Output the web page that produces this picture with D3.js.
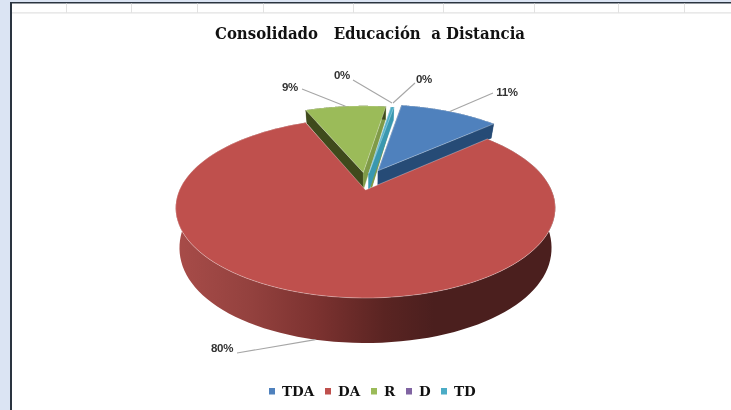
<!DOCTYPE html>
<html><head><meta charset="utf-8">
<script src="https://cdn.jsdelivr.net/npm/d3@7"></script>
<style>
html,body{margin:0;padding:0;background:#dbe4f3;overflow:hidden}
svg{display:block;filter:blur(0.45px)}
</style></head><body>
<svg id="c" width="731" height="410"></svg>
<script>
const chartTitle = "Consolidado\u00A0\u00A0 Educación\u00A0 a Distancia";
const categories = ["TDA","DA","R","D","TD"];
const values = [10.6,80.45,8.6,0.05,0.3];
const topColors = ["#4f81bd","#bf504d","#9bbb59","#8064a2","#4bacc6"];
const wallColors = ["#264b76","#7d3331","#3f4a1c","#7f9a47","#3a98b0"];
const endFaceColors = ["#264b76","#7d3331","#7f9a47","#7f9a47","#3a98b0"];
const exploded = [0.245,0,0.21,0.2,0.2];
const explodeTilt = [-12,0,3.5,0,-4];

const svg = d3.select("#c");
// sheet frame
svg.append("rect").attr("x",10).attr("y",2).attr("width",721).attr("height",408).attr("fill","#2a3440");
svg.append("rect").attr("x",12).attr("y",3.5).attr("width",719).attr("height",407).attr("fill","#fff");
const gridXs = [66,131,197,263,353,443,534,618,684];
svg.selectAll("line.g").data(gridXs).join("line").attr("class","g")
  .attr("x1",d=>d+.5).attr("x2",d=>d+.5).attr("y1",3.5).attr("y2",13).attr("stroke","#e2e2e2").attr("stroke-width",1);
svg.append("line").attr("x1",12).attr("x2",731).attr("y1",12.8).attr("y2",12.8).attr("stroke","#e2e2e2").attr("stroke-width",1.2);

svg.append("text").attr("x",370).attr("y",39).attr("text-anchor","middle")
  .attr("font-family","'DejaVu Serif'").attr("font-weight",700).attr("font-size",16.5)
  .attr("textLength",310).attr("lengthAdjust","spacingAndGlyphs")
  .attr("fill","#111").text(chartTitle);

// perspective projection of the pie plane
const cx=365.5, B=190, A=-48.4, C=0.2, D=186;
const yTop=(u,t)=>(A*t+B)/(1+C*t);
const xTop=(u,t)=>cx+D*u/(1+C*t);
const depthMain=t=>37.5-13.4*t-5.9*t*t;
const depthExploded=t=>18-4*t;
const upperPt=(u,t)=>[xTop(u,t),yTop(u,t)];
const lowerWith=dep=>(u,t)=>[cx+(xTop(u,t)-cx)*0.98,yTop(u,t)+dep(t)];
const pathLine=d3.line();

const rot = 9.8*Math.PI/180;
const arcs = d3.pie().sort(null).value(d=>d).startAngle(rot).endAngle(rot+2*Math.PI)(values);
const defs = svg.append("defs");
const grad = defs.append("linearGradient").attr("id","wall").attr("gradientUnits","userSpaceOnUse")
  .attr("x1",176).attr("x2",555).attr("y1",0).attr("y2",0);
[[0,"#a84c49"],[0.2,"#93413e"],[0.37,"#7c3230"],[0.55,"#5a2422"],[0.68,"#4b1f1e"],[1,"#4b1f1e"]]
  .forEach(s=>grad.append("stop").attr("offset",s[0]).attr("stop-color",s[1]));

function geom(a,i){
  const mid=(a.startAngle+a.endAngle)/2, e=exploded[i];
  const dir=mid+explodeTilt[i]*Math.PI/180;
  const ox=e*Math.sin(dir), ot=e*Math.cos(dir);
  const lowerPt=lowerWith(i===1?depthMain:depthExploded);
  const pt=(ang,f)=>f(ox+Math.sin(ang),ot+Math.cos(ang));
  const ang=d3.range(0,121).map(k=>a.startAngle+(a.endAngle-a.startAngle)*k/120);
  const apexT=upperPt(ox,ot), apexL=lowerPt(ox,ot);
  const rimT=ang.map(x=>pt(x,upperPt)), rimL=ang.map(x=>pt(x,lowerPt));
  return {mid,ox,ot,apexT,apexL,rimT,rimL,pt,lowerPt};
}
const g=svg.append("g");
const order=[3,2,4,0,1];
order.forEach(i=>{
  const a=arcs[i], s=geom(a,i);
  const last=s.rimT.length-1;
  const fill=i===1?"url(#wall)":wallColors[i];
  if(i!==1){
    g.append("path").attr("d",pathLine([s.apexT,s.rimT[0],s.rimL[0],s.apexL])+"Z").attr("fill",wallColors[i]).attr("stroke",wallColors[i]).attr("stroke-width",.4);
    g.append("path").attr("d",pathLine([s.apexT,s.rimT[last],s.rimL[last],s.apexL])+"Z").attr("fill",endFaceColors[i]).attr("stroke",endFaceColors[i]).attr("stroke-width",.4);
  }
  g.append("path").attr("d",pathLine(s.rimT.concat(s.rimL.slice().reverse()))+"Z").attr("fill",fill);
  g.append("path").attr("d",pathLine([s.apexT].concat(s.rimT))+"Z").attr("fill",topColors[i])
    .attr("stroke","#fff").attr("stroke-opacity",.45).attr("stroke-width",.7).attr("stroke-linejoin","round");
});

// percentage labels and leader lines
const labelAnchors=[[507,92,493,93],[222,348,237,353],[290,87,302,89],[342,75,353,80],[424,79,415,83]];
const leaderStarts=[null,null,null,[392,103],[393,103]];
const fmt=d3.format(".0%"), total=d3.sum(values);
arcs.forEach((a,i)=>{
  const s=geom(a,i), an=labelAnchors[i];
  const st=leaderStarts[i]||(i===1?s.pt(s.mid,s.lowerPt):s.pt(s.mid,upperPt));
  svg.append("line").attr("x1",st[0]).attr("y1",st[1]).attr("x2",an[2]).attr("y2",an[3])
    .attr("stroke","#a6a6a6").attr("stroke-width",1.1);
  svg.append("text").attr("x",an[0]).attr("y",an[1]+4).attr("text-anchor","middle")
    .attr("font-family","'Liberation Sans'").attr("font-weight",700).attr("font-size",11.5)
    .attr("letter-spacing",-0.3).attr("fill","#333").text(fmt(values[i]/total));
});

// legend
const legendX=[269,325,371,406,441];
categories.forEach((c,i)=>{
  svg.append("rect").attr("x",legendX[i]).attr("y",388).attr("width",6).attr("height",6.5).attr("fill",topColors[i]);
  svg.append("text").attr("x",legendX[i]+13).attr("y",395.5)
    .attr("font-family","'DejaVu Serif'").attr("font-weight",700).attr("font-size",13.5)
    .attr("fill","#111").text(c);
});
</script>
</body></html>
